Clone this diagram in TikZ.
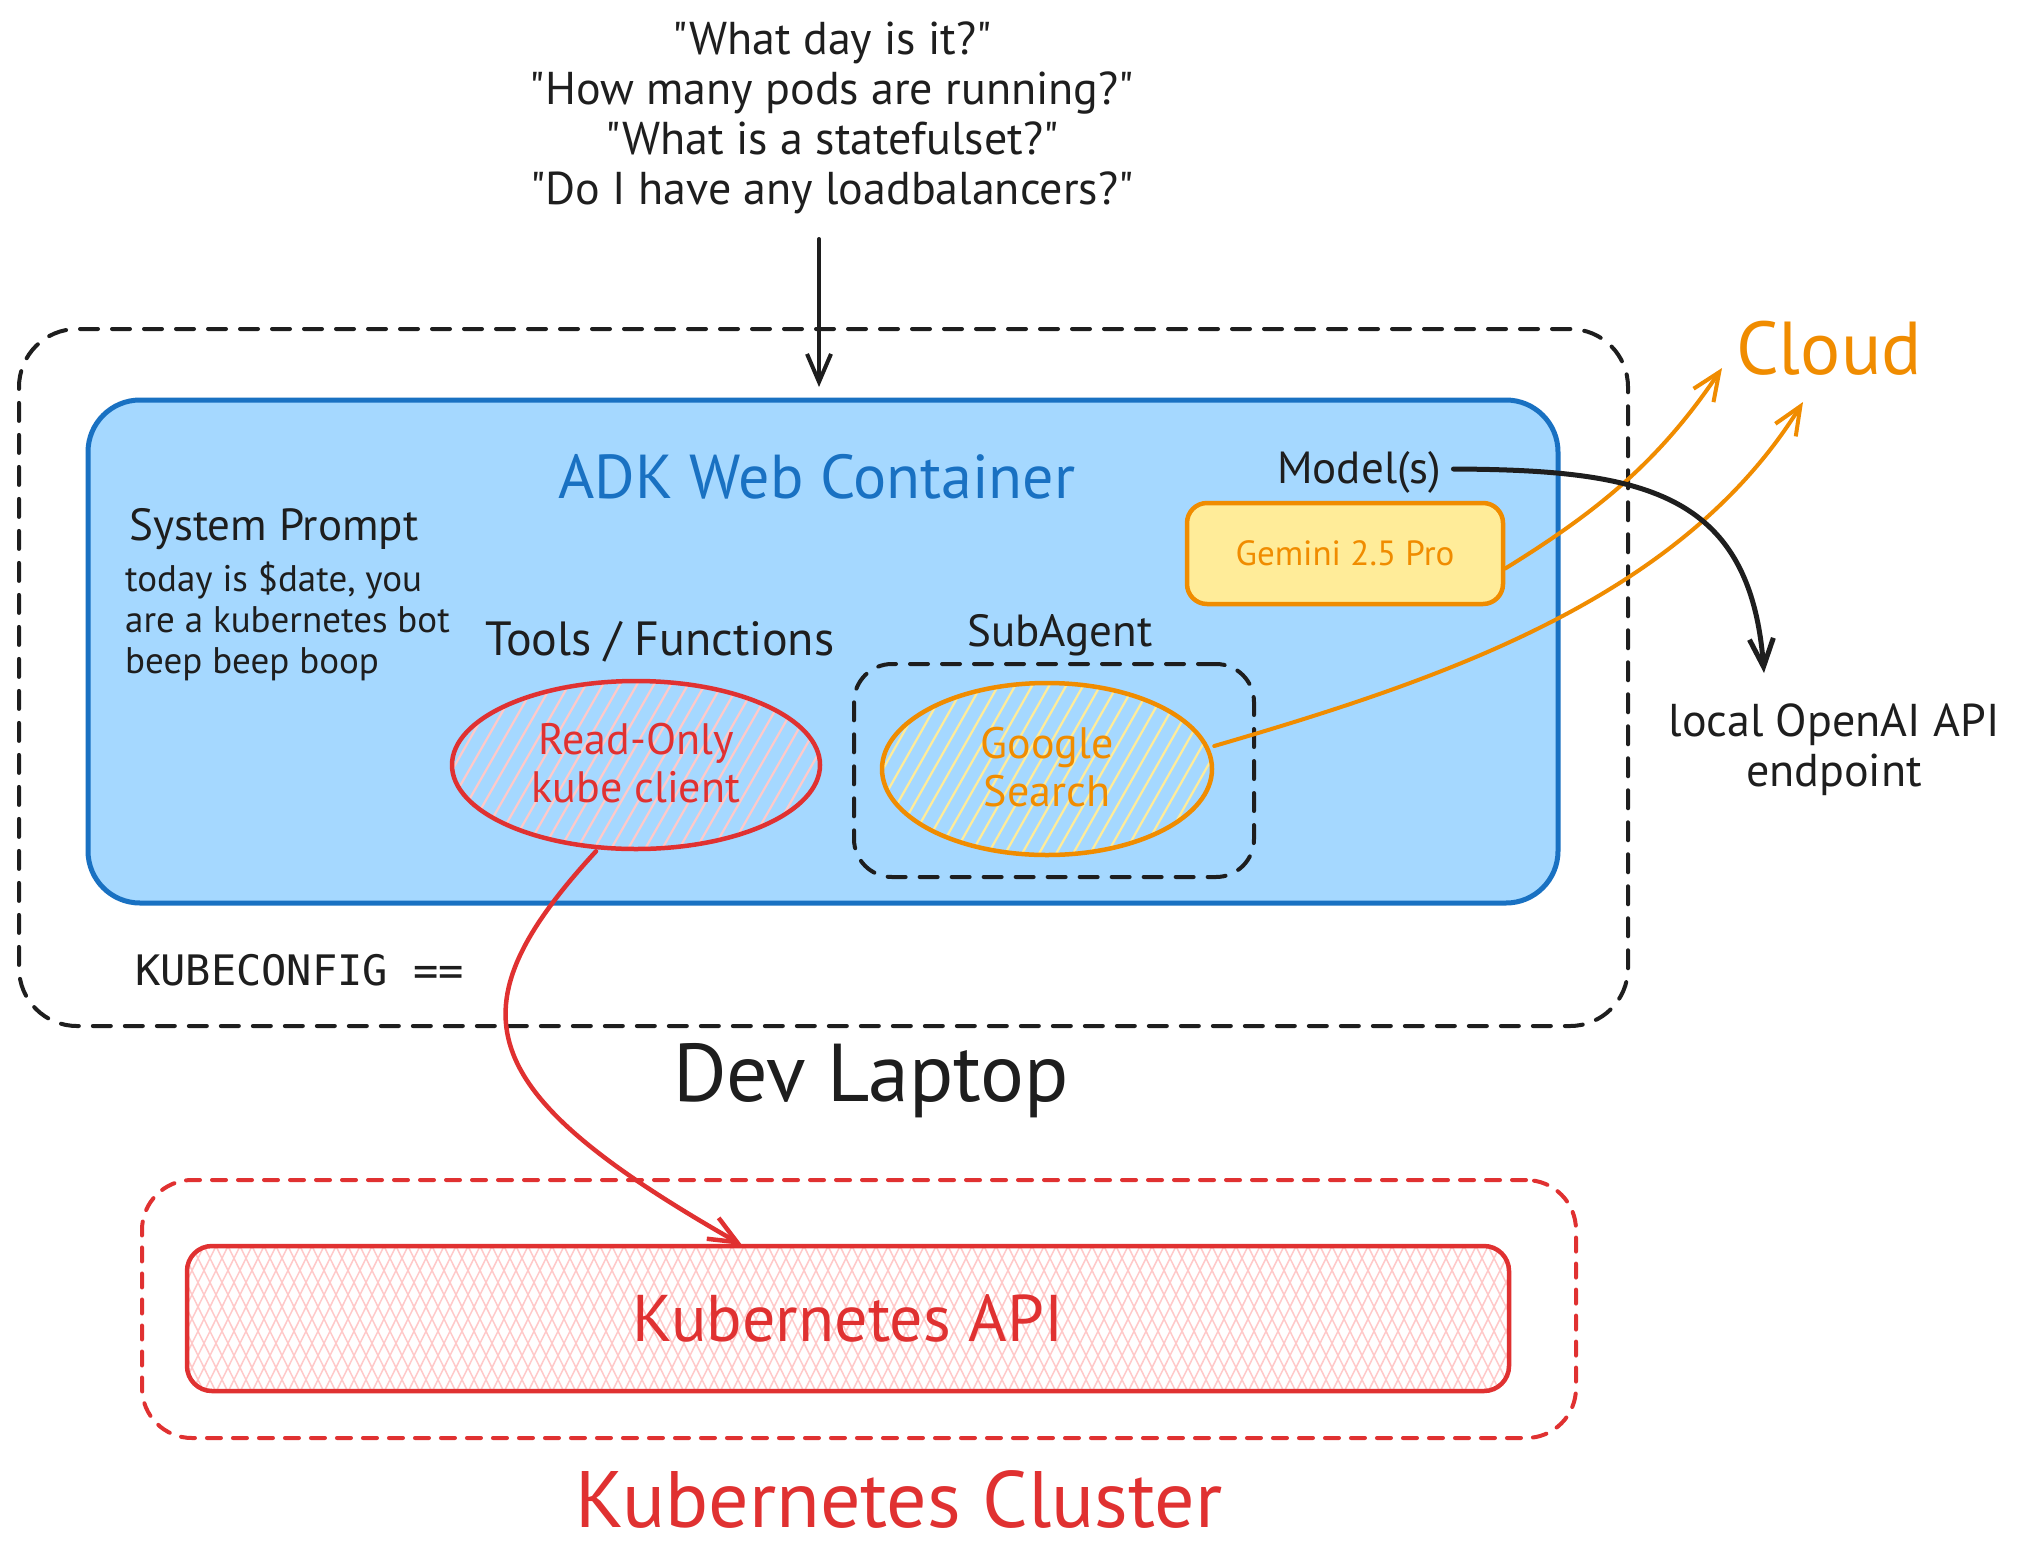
\documentclass[tikz,border=0pt]{standalone}
\usepackage{fontspec}
\setmainfont{PT Sans}[Ligatures=TeXOff]
\setmonofont{DejaVu Sans Mono}
\usetikzlibrary{arrows.meta,shapes.geometric}
\definecolor{ink}{HTML}{1E1E1E}
\definecolor{bluefill}{HTML}{A5D8FF}
\definecolor{bluestroke}{HTML}{1971C2}
\definecolor{redink}{HTML}{E03131}
\definecolor{redfill}{HTML}{FFC9C9}
\definecolor{orangeink}{HTML}{F08C00}
\definecolor{yellowfill}{HTML}{FFEC99}
\newcommand\fsz[2]{\fontsize{#1pt}{#2pt}\selectfont}
\tikzset{
  dashbox/.style={draw=ink, line width=4pt, dash pattern=on 18pt off 14pt, rounded corners=#1, inner sep=0pt},
  bluebox/.style={draw=bluestroke, fill=bluefill, line width=5pt, rounded corners=52pt, inner sep=0pt},
  gembox/.style={draw=orangeink, fill=yellowfill, line width=4.5pt, rounded corners=20pt, inner sep=0pt},
  apibox/.style={draw=redink, line width=4.5pt, rounded corners=25pt, inner sep=0pt},
  reddash/.style={draw=redink, line width=4pt, dash pattern=on 14pt off 12pt, rounded corners=50pt, inner sep=0pt},
  oval/.style={ellipse, line width=4.5pt, inner sep=0pt},
  txt/.style={text=ink, inner sep=0pt},
  conn/.style={line width=4pt, -{Straight Barb[length=28pt,width=24pt]}},
}
\begin{document}
\begin{tikzpicture}[x=1pt, y=-1pt, line cap=round, line join=round]
\useasboundingbox (0,0) rectangle (2023,1566);
\fill[white] (0,0) rectangle (2023,1566);

% questions
\node[txt, align=center, font=\fsz{46}{50}] (q) at (832,118)
  {"What day is it?"\\"How many pods are running?"\\"What is a statefulset?"\\"Do I have any loadbalancers?"};

% Dev laptop dashed box
\node[dashbox=58pt, minimum width=1609pt, minimum height=697pt] (laptop) at (823.5,677.5) {};
% ADK container
\node[bluebox, minimum width=1470pt, minimum height=503pt] (adk) at (823,651.5) {};

\coordinate (qs) at (819,239);
\coordinate (adktop) at (819,387);
\draw[conn, draw=ink] (qs) -- (adktop);

\node[txt, text=bluestroke, font=\fsz{62}{70}] (adkt) at (817,477) {ADK Web Container};

\node[txt, anchor=west, font=\fsz{45}{50}] (sysp) at (129,529) {System Prompt};
\node[txt, anchor=north west, align=left, font=\fsz{37}{41}] (prompt) at (125,562)
  {today is \$date, you\\are a kubernetes bot\\beep beep boop};

\node[txt, font=\fsz{48}{50}] (tools) at (660,642) {Tools / Functions};
\node[txt, font=\fsz{45}{50}] (subt) at (1060,635) {SubAgent};

\node[txt, anchor=west, font=\fsz{45}{50}] (model) at (1277,472) {Model(s)};
\node[gembox, minimum width=316pt, minimum height=101pt] (gem) at (1345,553.5) {};
\node[txt, text=orangeink, font=\fsz{35}{40}] at (gem) {Gemini 2.5 Pro};

% SubAgent box
\node[dashbox=38pt, minimum width=400pt, minimum height=213pt] (sub) at (1054,770.5) {};

% Read-only ellipse hatch
\begin{scope}
  \clip (636,765) ellipse [x radius=184, y radius=84];
  \foreach \i in {-300,-283,...,300}
    \draw[redfill, line width=2.2pt] ({636+\i-60},870) -- ({636+\i+60},660);
\end{scope}
\node[oval, draw=redink, minimum width=368pt, minimum height=168pt] (ro) at (636,765) {};
\node[txt, text=redink, align=center, font=\fsz{44}{48}] at (636,763) {Read-Only\\kube client};

% Google ellipse hatch
\begin{scope}
  \clip (1047,769) ellipse [x radius=165, y radius=86];
  \foreach \i in {-300,-283,...,300}
    \draw[yellowfill, line width=2.2pt] ({1047+\i-60},875) -- ({1047+\i+60},663);
\end{scope}
\node[oval, draw=orangeink, minimum width=330pt, minimum height=172pt] (gs) at (1047,769) {};
\node[txt, text=orangeink, align=center, font=\fsz{44}{48}] at (1047,767) {Google\\Search};

\node[txt, anchor=west, font=\ttfamily\fsz{42}{48}] (kc) at (135,970) {KUBECONFIG ==};
\node[txt, font=\fsz{82}{90}] (devl) at (871,1081) {Dev Laptop};

% right side labels
\node[txt, text=orangeink, font=\fsz{75}{84}] (cloud) at (1829,348) {Cloud};
\node[txt, align=center, font=\fsz{46}{50}] (local) at (1834,750) {local OpenAI API\\endpoint};

% Cluster
\node[reddash, minimum width=1434pt, minimum height=258pt] (cluster) at (859,1309) {};
\begin{scope}
  \clip[rounded corners=25pt] (187,1246) rectangle (1509,1391);
  \foreach \i in {120,132,...,1600}
    {\draw[redfill, line width=1.5pt] ({\i-40},1400) -- ({\i+40},1238);
     \draw[redfill, line width=1.5pt] ({\i+40},1400) -- ({\i-40},1238);}
\end{scope}
\node[apibox, minimum width=1322pt, minimum height=145pt] (api) at (848,1318.5) {};
\node[txt, text=redink, font=\fsz{66}{72}] at (api) {Kubernetes API};
\node[txt, text=redink, font=\fsz{80}{86}] (clt) at (899,1499) {Kubernetes Cluster};

% connectors
\coordinate (cloudA) at (1722,368);
\coordinate (cloudB) at (1803,402);
\coordinate (ept) at (1764,673);
\coordinate (apitop) at (742,1245);
\draw[conn, draw=orangeink] ([yshift=-15pt]gem.east) .. controls (1600,510) and (1660,460) .. (cloudA);
\draw[conn, draw=orangeink] ([yshift=23pt]gs.east) .. controls (1440,680) and (1680,600) .. (cloudB);
\draw[conn, draw=ink, line width=5pt] ([xshift=12pt,yshift=3pt]model.east) .. controls (1640,470) and (1750,490) .. (ept);
\draw[conn, draw=redink, line width=4.5pt] ([xshift=-40pt]ro.south) .. controls (450,1010) and (470,1090) .. (apitop);
\end{tikzpicture}
\end{document}
